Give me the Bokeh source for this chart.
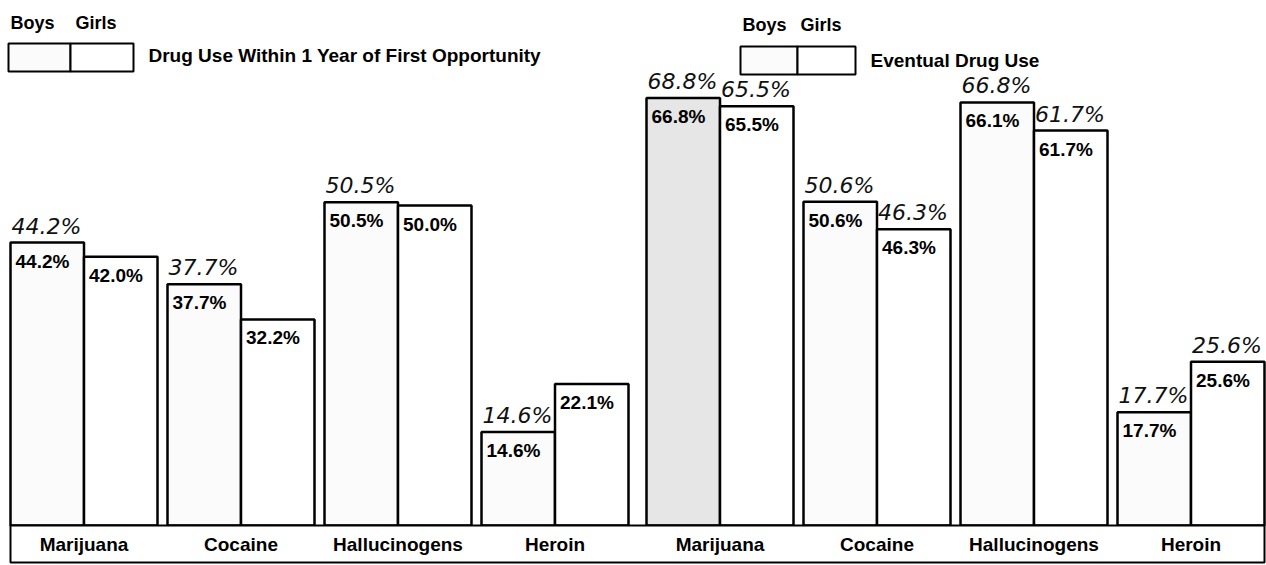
from bokeh.plotting import figure
from bokeh.models import Range1d, ColumnDataSource
from bokeh.core.properties import value
from bokeh.embed import file_html
from bokeh.resources import INLINE

# ---------------- data ----------------
categories = ["Marijuana", "Cocaine", "Hallucinogens", "Heroin"]
within_year_boys = [44.2, 37.7, 50.5, 14.6]
within_year_girls = [42.0, 32.2, 50.0, 22.1]
eventual_boys = [66.8, 50.6, 66.1, 17.7]
eventual_girls = [65.5, 46.3, 61.7, 25.6]
# handwritten notes above the bars
notes_within_boys = ["44.2%", "37.7%", "50.5%", "14.6%"]
notes_within_girls = ["", "", "", ""]
notes_eventual_boys = ["68.8%", "50.6%", "66.8%", "17.7%"]
notes_eventual_girls = ["65.5%", "46.3%", "61.7%", "25.6%"]
legend_sexes = ["Boys", "Girls"]
legend_titles = ["Drug Use Within 1 Year of First Opportunity", "Eventual Drug Use"]

# ---------------- layout ----------------
W, H = 1266, 565
S = 6.4                      # px per percent
BASE = 525                   # baseline, px from top of figure
Y_TOP = BASE / S
Y_BOT = Y_TOP - H / S


def X(px):                   # page x -> data x
    return px


def Y(py):                   # page y -> data y
    return Y_TOP - py / S


BAR_W = 73.5
FONT = value("Liberation Sans")
HAND = value("DejaVu Sans")

p = figure(width=W, height=H, output_backend="svg", toolbar_location=None,
           x_range=Range1d(0, W), y_range=Range1d(Y_BOT, Y_TOP),
           x_axis_location=None, y_axis_location=None, min_border=0,
           outline_line_color=None, background_fill_color="white")
p.grid.visible = False

xs, tops, fills, labels, notes, lefts = [], [], [], [], [], []
cat_x, cat_lab = [], []
panels = [(within_year_boys, within_year_girls, notes_within_boys, notes_within_girls),
          (eventual_boys, eventual_girls, notes_eventual_boys, notes_eventual_girls)]
g = 0
for pi, (bv, gv, bn, gn) in enumerate(panels):
    for ci, cat in enumerate(categories):
        left = X(10 + g * 157 + (8 if g >= 4 else 0))
        for j, (v, n) in enumerate([(bv[ci], bn[ci]), (gv[ci], gn[ci])]):
            l = left + j * BAR_W
            lefts.append(l)
            xs.append(l + BAR_W / 2)
            tops.append(v)
            labels.append(f"{v:.1f}%")
            notes.append(n)
            if j == 0:
                fills.append("#e6e6e6" if (pi == 1 and ci == 0) else "#fbfbfb")
            else:
                fills.append("white")
        cat_x.append(left + BAR_W)
        cat_lab.append(cat)
        g += 1

src = ColumnDataSource(dict(x=xs, top=tops, fill=fills, label=labels,
                            note=notes, left=lefts))

p.vbar(x="x", top="top", bottom=0, width=BAR_W, fill_color="fill",
       line_color="black", line_width=2.5, source=src)

# value labels inside bars
p.text(x="left", y="top", text="label", source=src, x_offset=5, y_offset=8,
       text_font=FONT, text_font_style="bold", text_font_size="19px",
       text_baseline="top", text_align="left", text_color="black")

# handwritten notes
p.text(x="left", y="top", text="note", source=src, x_offset=1, y_offset=-4,
       text_font=HAND, text_font_style="italic", text_font_size="22px",
       text_baseline="bottom", text_align="left", text_color="#111111")

# category label box
box_l, box_r = X(10), X(1264)
p.quad(left=[box_l], right=[box_r], top=[0], bottom=[Y(562)],
       fill_color="white", line_color="black", line_width=2)
p.text(x=cat_x, y=[Y(544)] * len(cat_x), text=cat_lab, text_font=FONT,
       text_font_style="bold", text_font_size="19px", text_align="center",
       text_baseline="middle", text_color="black")

# legends
for (lx, ly, divx, right, sy, ty, girls_x), title in zip(
        [(8, 43, 70, 133, 22, 55, 75), (740, 46, 797, 855, 24, 60, 800)], legend_titles):
    p.quad(left=[X(lx), X(divx)], right=[X(divx), X(right)],
           top=[Y(ly)] * 2, bottom=[Y(ly + 28)] * 2,
           fill_color=["#fbfbfb", "white"], line_color="black", line_width=2)
    p.text(x=[X(lx + 2), X(girls_x)], y=[Y(sy)] * 2, text=legend_sexes, text_font=FONT,
           text_font_style="bold", text_font_size="18px", text_baseline="middle",
           text_align="left", text_color="black")
    p.text(x=[X(right + 15)], y=[Y(ty)], text=[title], text_font=FONT,
           text_font_style="bold", text_font_size="19px", text_baseline="middle",
           text_align="left", text_color="black")

open("out.html", "w").write(file_html(p, INLINE))
